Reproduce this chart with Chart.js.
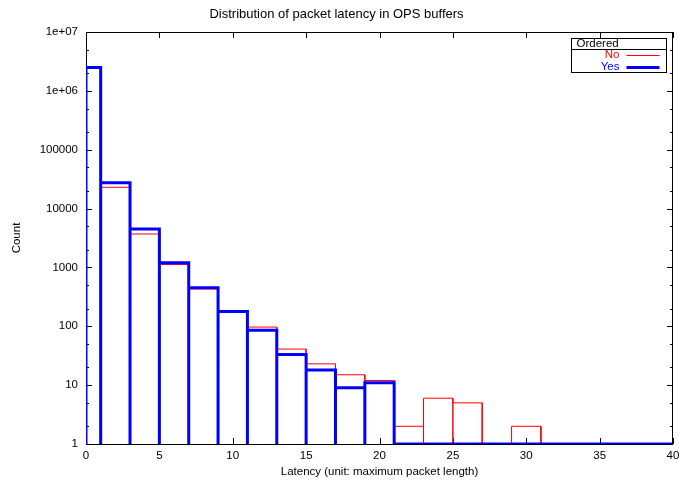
<!DOCTYPE html>
<html>
<head>
<meta charset="utf-8">
<script src="https://cdn.jsdelivr.net/npm/chart.js@4.4.0/dist/chart.umd.min.js"></script>
<style>
  html, body { margin: 0; padding: 0; background: #fff; }
</style>
</head>
<body>
<canvas id="latencyChart" width="679" height="481"></canvas>
<script>
// histogram bins (latency, unit: max packet length); first/last bins are cut by the axis
const binEdges = [0, 1, 3, 5, 7, 9, 11, 13, 15, 17, 19, 21, 23, 25, 27, 29, 31, 33, 35, 37, 39, 40];
const countNo  = [2500000, 23000, 3700, 1120, 430, 180, 97, 41, 23, 15, 12, 2, 6, 5, 1, 2, 1, 1, 1, 1, 1];
const countYes = [2500000, 27500, 4500, 1200, 450, 178, 86, 33, 18, 9, 11, 1, 1, 1, 1, 1, 1, 1, 1, 1, 1];
const seriesLabels = ['No', 'Yes'];
const legendTitle = 'Ordered';
const xTicks = [0, 5, 10, 15, 20, 25, 30, 35, 40];
const yTicks = [1, 10, 100, 1000, 10000, 100000, 1000000, 10000000];
const yTickLabels = ['1', '10', '100', '1000', '10000', '100000', '1e+06', '1e+07'];

const FONT = '"Liberation Sans", Arial, Helvetica, sans-serif';

// box outline of each bin, drawn as one polyline
function outline(counts) {
    const pts = [];
    counts.forEach(function(v, i) {
        const lo = binEdges[i], hi = binEdges[i + 1];
        pts.push({x: lo, y: yTicks[0]}, {x: lo, y: v}, {x: hi, y: v}, {x: hi, y: yTicks[0]});
    });
    return pts;
}

const framePlugin = {
    id: 'frame',
    beforeDatasetsDraw(chart) {
        const ctx = chart.ctx;
        const a = chart.chartArea;
        const xs = chart.scales.x, ys = chart.scales.y;
        ctx.save();
        ctx.strokeStyle = '#000';
        ctx.lineWidth = 1;
        ctx.strokeRect(Math.round(a.left) + 0.5, Math.round(a.top) + 0.5,
            Math.round(a.right - a.left) - 1, Math.round(a.bottom - a.top));
        ctx.beginPath();
        xTicks.forEach(function(v) {
            const px = Math.round(xs.getPixelForValue(v)) + 0.5;
            ctx.moveTo(px, a.bottom); ctx.lineTo(px, a.bottom - 6);
            ctx.moveTo(px, a.top); ctx.lineTo(px, a.top + 6);
        });
        yTicks.forEach(function(v, i) {
            const py = Math.round(ys.getPixelForValue(v)) + 0.5;
            ctx.moveTo(a.left, py); ctx.lineTo(a.left + 6, py);
            ctx.moveTo(a.right, py); ctx.lineTo(a.right - 6, py);
            if (i < yTicks.length - 1) {
                [2, 5].forEach(function(m) {
                    const pm = Math.round(ys.getPixelForValue(v * m)) + 0.5;
                    ctx.moveTo(a.left, pm); ctx.lineTo(a.left + 3, pm);
                    ctx.moveTo(a.right, pm); ctx.lineTo(a.right - 3, pm);
                });
            }
        });
        ctx.stroke();
        ctx.restore();
    },
    afterDraw(chart) {
        const ctx = chart.ctx;
        const a = chart.chartArea;
        const right = Math.round(a.right) - 6.5, left = right - 95;
        const top = Math.round(a.top) + 6.5, bottom = top + 34, split = top + 11;
        ctx.save();
        ctx.strokeStyle = '#000';
        ctx.lineWidth = 1;
        ctx.strokeRect(left, top, right - left, bottom - top);
        ctx.beginPath();
        ctx.moveTo(left, split); ctx.lineTo(right, split);
        ctx.stroke();
        ctx.font = '11.5px ' + FONT;
        ctx.textBaseline = 'middle';
        ctx.fillStyle = '#000';
        ctx.textAlign = 'left';
        ctx.fillText(legendTitle, left + 5, top + 5.5);
        ctx.textAlign = 'right';
        const rows = [top + 16.5, top + 28];
        chart.data.datasets.forEach(function(ds, i) {
            ctx.fillStyle = ds.borderColor;
            ctx.fillText(ds.label, left + 48, rows[i]);
            ctx.strokeStyle = ds.borderColor;
            ctx.lineWidth = ds.borderWidth;
            ctx.beginPath();
            ctx.moveTo(left + 55, Math.round(rows[i]) + (ds.borderWidth % 2 ? 0.5 : 0));
            ctx.lineTo(left + 88, Math.round(rows[i]) + (ds.borderWidth % 2 ? 0.5 : 0));
            ctx.stroke();
        });
        ctx.restore();
    }
};

const latencyCtx = document.getElementById('latencyChart').getContext('2d');
new Chart(latencyCtx, {
    type: 'scatter',
    data: {
        datasets: [{
            label: seriesLabels[0],
            data: outline(countNo),
            borderColor: '#ff0000',
            borderWidth: 1,
            order: 1
        }, {
            label: seriesLabels[1],
            data: outline(countYes),
            borderColor: '#0000ff',
            borderWidth: 3,
            order: 0
        }]
    },
    options: {
        responsive: false,
        animation: false,
        showLine: true,
        elements: {
            point: { radius: 0, hoverRadius: 0 },
            line: { tension: 0, fill: false, borderJoinStyle: 'miter', borderCapStyle: 'butt' }
        },
        layout: { padding: { left: 0, right: 6, top: 0, bottom: 0 } },
        plugins: {
            legend: { display: false },
            tooltip: { enabled: false },
            title: {
                display: true,
                text: 'Distribution of packet latency in OPS buffers',
                color: '#000',
                font: { family: FONT, size: 13, weight: 'normal' },
                padding: { top: 7, bottom: 9.4 }
            }
        },
        scales: {
            x: {
                type: 'linear',
                min: 0,
                max: 40,
                grid: { display: false, drawTicks: false },
                border: { display: false },
                afterBuildTicks: function(scale) {
                    scale.ticks = xTicks.map(function(v) { return {value: v}; });
                },
                afterFit: function(scale) {
                    scale.height = 37;
                    scale.paddingLeft = 0;
                    scale.paddingRight = 0;
                },
                ticks: {
                    color: '#000',
                    padding: 5,
                    maxRotation: 0,
                    font: { family: FONT, size: 11.5 }
                },
                title: {
                    display: true,
                    text: 'Latency (unit: maximum packet length)',
                    color: '#000',
                    font: { family: FONT, size: 11.5 },
                    padding: { top: 0, bottom: 2 }
                }
            },
            y: {
                type: 'logarithmic',
                min: yTicks[0],
                max: yTicks[yTicks.length - 1],
                grid: { display: false, drawTicks: false },
                border: { display: false },
                afterBuildTicks: function(scale) {
                    scale.ticks = yTicks.map(function(v) { return {value: v}; });
                },
                afterFit: function(scale) {
                    scale.width = 86;
                    scale.paddingTop = 0;
                    scale.paddingBottom = 0;
                },
                ticks: {
                    color: '#000',
                    padding: 8,
                    font: { family: FONT, size: 11.5 },
                    callback: function(value) {
                        const i = yTicks.indexOf(value);
                        return i >= 0 ? yTickLabels[i] : '';
                    }
                },
                title: {
                    display: true,
                    text: 'Count',
                    color: '#000',
                    font: { family: FONT, size: 11.5 },
                    padding: { top: 10, bottom: 0 }
                }
            }
        }
    },
    plugins: [framePlugin]
});
</script>
</body>
</html>
